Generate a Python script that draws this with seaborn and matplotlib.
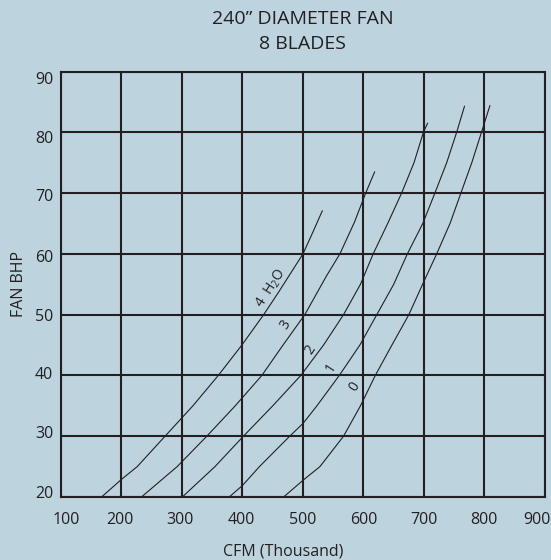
import matplotlib
matplotlib.use("Agg")
import matplotlib.pyplot as plt
import matplotlib.transforms as mtransforms
import pandas as pd
import seaborn as sns

# static pressure curves (inches H2O): CFM in thousands vs fan BHP
cfm_0 = [468, 500, 528, 567, 595, 619.5, 647, 675, 700, 721, 743, 761, 779, 795, 809]
bhp_0 = [20, 22.75, 25, 30, 35, 40, 45, 50, 55.5, 60, 65, 70, 75, 80, 84.4]
cfm_1 = [378, 400, 428, 478, 500, 523, 560, 594, 622, 650, 672.5, 698, 718, 737.5, 754, 767]
bhp_1 = [20, 21.9, 25, 30, 32.1, 35, 40, 45, 50, 55, 60, 65, 70, 75, 80, 84.3]
cfm_2 = [300.5, 354.5, 401.5, 450, 496.4, 534, 567, 595, 616, 640, 663, 683.5, 699, 706]
bhp_2 = [20, 25, 30, 35, 40, 45, 50, 55, 60, 65, 70, 75, 80, 81.5]
cfm_3 = [233, 292, 341, 388, 432, 467, 503, 539, 561, 585, 603.6, 618.5]
bhp_3 = [20, 25, 30, 35, 40, 45, 50, 56.4, 60, 65.2, 70, 73.5]
cfm_4 = [167, 200, 226, 272, 318, 360, 399, 435, 459, 500, 516, 532]
bhp_4 = [20, 22.9, 25, 30, 35, 40, 45, 50, 53.6, 60, 63.5, 67.1]

pressures = ["0", "1", "2", "3", "4"]
curve_labels = ["0", "1", "2", "3", "4  H$_\\mathregular{2}$O"]
label_cfm = [585, 547, 512, 472, 447]
label_bhp = [38.1, 41.3, 44.3, 48.3, 54.3]

x_ticks = [100, 200, 300, 400, 500, 600, 700, 800, 900]
y_ticks = [20, 30, 40, 50, 60, 70, 80, 90]

bg = "#bdd4df"
ink = "#231f20"

rows = []
for p, xs, ys in zip(pressures, [cfm_0, cfm_1, cfm_2, cfm_3, cfm_4],
                     [bhp_0, bhp_1, bhp_2, bhp_3, bhp_4]):
    for i, (x, y) in enumerate(zip(xs, ys)):
        rows.append({"pressure": p, "order": i, "cfm": x, "bhp": y})
df = pd.DataFrame(rows)

sns.set_theme(style="white")
plt.rcParams["font.family"] = ["Open Sans", "DejaVu Sans"]
plt.rcParams["text.color"] = ink
plt.rcParams["xtick.color"] = ink
plt.rcParams["ytick.color"] = ink
plt.rcParams["axes.labelcolor"] = ink

fig = plt.figure(figsize=(5.51, 5.60), dpi=100, facecolor=bg)
ax = fig.add_axes([0.1107, 0.1125, 0.8784, 0.7598], facecolor=bg)

sns.lineplot(data=df, x="cfm", y="bhp", hue="pressure", units="pressure",
             estimator=None, sort=False, palette=[ink] * 5, linewidth=0.8,
             legend=False, ax=ax, zorder=3)

ax.set_xlim(100, 900)
ax.set_ylim(20, 90)
ax.set_xticks(x_ticks)
ax.set_yticks(y_ticks)
ax.grid(True, color=ink, linewidth=1.5)
for s in ax.spines.values():
    s.set_visible(True)
    s.set_color(ink)
    s.set_linewidth(1.5)
ax.tick_params(axis="x", length=0, pad=10.8, labelsize=11.5)
ax.tick_params(axis="y", length=0, pad=5.5, labelsize=11.5)

# tick labels in the original are squeezed slightly inward
x_shift = [5.7, -1.6, -2, -0.8, 0, 0.5, 0.3, -0.2, -7.7]
y_shift = [4.7, 4.3, 2.3, 0, -2.3, -2.3, -5, -6.7]
for lab, dx in zip(ax.get_xticklabels(), x_shift):
    lab.set_transform(lab.get_transform() +
                      mtransforms.ScaledTranslation(dx / 100, 0, fig.dpi_scale_trans))
for lab, dy in zip(ax.get_yticklabels(), y_shift):
    lab.set_transform(lab.get_transform() +
                      mtransforms.ScaledTranslation(0, dy / 100, fig.dpi_scale_trans))

ax.set_xlabel("CFM (Thousand)", fontsize=11.5, va="baseline")
ax.xaxis.set_label_coords(0.46, -0.138)
ax.set_ylabel("FAN BHP", fontsize=11.5, va="center")
ax.yaxis.set_label_coords(-0.0864, 0.5)

for txt, x, y in zip(curve_labels, label_cfm, label_bhp):
    ax.text(x, y, txt, fontsize=10, rotation=57, rotation_mode="anchor",
            ha="center", va="center", color=ink, zorder=4)

fig.text(0.549, 1 - 24 / 560, "240\u201d DIAMETER FAN", fontsize=14,
         ha="center", va="baseline", color=ink)
fig.text(0.549, 1 - 49.3 / 560, "8 BLADES", fontsize=14,
         ha="center", va="baseline", color=ink)

fig.savefig("out.png", dpi=100, facecolor=bg)
